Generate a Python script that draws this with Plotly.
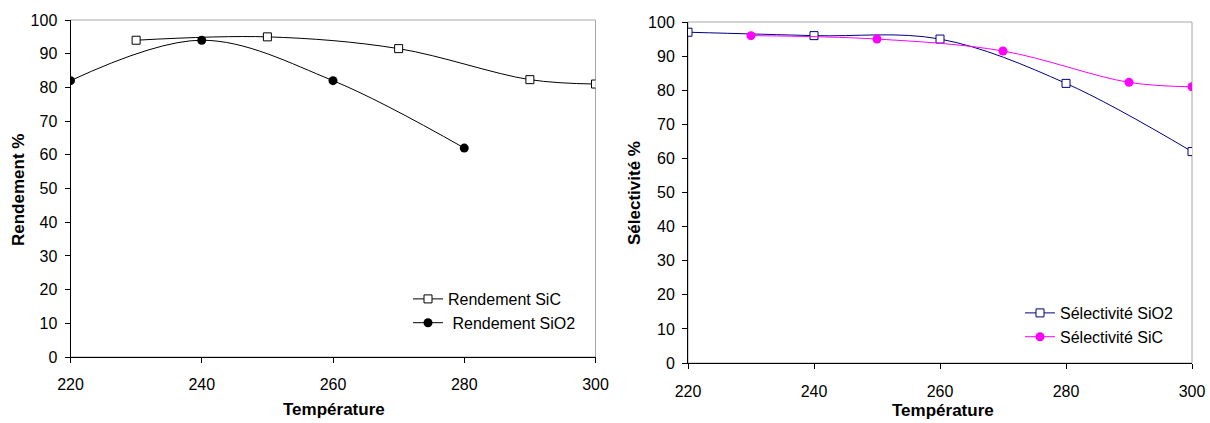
import plotly.graph_objects as go

# Temperature grid and measured values
temp_sio2 = [220, 240, 260, 280]
rendement_sio2 = [82, 94, 82, 62]

temp_sic = [230, 250, 270, 290, 300]
rendement_sic = [94, 95, 91.5, 82.3, 81]

temp_sel_sio2 = [220, 240, 260, 280, 300]
selectivite_sio2 = [97, 96, 95, 82, 62]

temp_sel_sic = [230, 250, 270, 290, 300]
selectivite_sic = [96, 95, 91.5, 82.3, 81]

x_ticks = [220, 240, 260, 280, 300]
y_ticks = list(range(0, 101, 10))

W, H = 1210, 423
FONT = "Liberation Sans, Arial, sans-serif"


def px_x(v):
    return v / W


def px_y(v):
    return 1 - v / H


fig = go.Figure()

# Left panel: Rendement
fig.add_trace(go.Scatter(
    x=temp_sic, y=rendement_sic, name="Rendement SiC",
    mode="lines+markers", line=dict(color="black", width=1, shape="spline"),
    marker=dict(symbol="square", size=8, color="white", line=dict(color="black", width=1)),
    xaxis="x", yaxis="y", legend="legend",
))
fig.add_trace(go.Scatter(
    x=temp_sio2, y=rendement_sio2, name="\u00a0Rendement SiO2",
    mode="lines+markers", line=dict(color="black", width=1, shape="spline"),
    marker=dict(symbol="circle", size=9, color="black"),
    xaxis="x", yaxis="y", legend="legend",
))

# Right panel: Sélectivité
fig.add_trace(go.Scatter(
    x=temp_sel_sio2, y=selectivite_sio2, name="Sélectivité SiO2",
    mode="lines+markers", line=dict(color="#000080", width=1, shape="spline"),
    marker=dict(symbol="square", size=8, color="white", line=dict(color="#000080", width=1)),
    xaxis="x2", yaxis="y2", legend="legend2",
))
fig.add_trace(go.Scatter(
    x=temp_sel_sic, y=selectivite_sic, name="Sélectivité SiC",
    mode="lines+markers", line=dict(color="#FF00FF", width=1, shape="spline"),
    marker=dict(symbol="circle", size=9, color="#FF00FF"),
    xaxis="x2", yaxis="y2", legend="legend2",
))

axis_common = dict(
    showgrid=False, zeroline=False, showline=True, linecolor="black", linewidth=1,
    ticks="outside", ticklen=5, tickcolor="black", tickwidth=1, automargin=False,
    tickfont=dict(family=FONT, size=16, color="black"),
)

left_dom_x = [px_x(70.5), px_x(595.5)]
left_dom_y = [px_y(357), px_y(20)]
right_dom_x = [px_x(688), px_x(1192)]
right_dom_y = [px_y(363), px_y(22)]

fig.update_layout(
    width=W, height=H,
    margin=dict(l=0, r=0, t=0, b=0, autoexpand=False),
    paper_bgcolor="white", plot_bgcolor="white",
    font=dict(family=FONT, size=16, color="black"),
    xaxis=dict(domain=left_dom_x, range=[220, 300], tickvals=x_ticks,
               anchor="y", ticklabelstandoff=8, **axis_common),
    yaxis=dict(domain=left_dom_y, range=[0, 100], tickvals=y_ticks,
               anchor="x", ticklabelstandoff=4, **axis_common),
    xaxis2=dict(domain=right_dom_x, range=[220, 300], tickvals=x_ticks,
                anchor="y2", ticklabelstandoff=9, **axis_common),
    yaxis2=dict(domain=right_dom_y, range=[0, 100], tickvals=y_ticks,
                anchor="x2", ticklabelstandoff=4, **axis_common),
    legend=dict(x=px_x(408), y=px_y(282), xanchor="left", yanchor="top",
                bgcolor="rgba(0,0,0,0)", font=dict(family=FONT, size=16)),
    legend2=dict(x=px_x(1020), y=px_y(296), xanchor="left", yanchor="top",
                 bgcolor="rgba(0,0,0,0)", font=dict(family=FONT, size=16)),
    showlegend=True,
)

# Light grey frame on top and right of each plot area
for xr, yr in (("x domain", "y domain"), ("x2 domain", "y2 domain")):
    fig.add_shape(type="rect", xref=xr, yref=yr, x0=0, x1=1, y0=0, y1=1,
                  line=dict(color="#a6a6a6", width=1), layer="below")

# Axis titles
titles = [
    dict(text="<b>Température</b>", x=px_x(334), y=px_y(409), textangle=0),
    dict(text="<b>Rendement %</b>", x=px_x(18), y=px_y(190), textangle=-90),
    dict(text="<b>Température</b>", x=px_x(943), y=px_y(410), textangle=0),
    dict(text="<b>Sélectivité %</b>", x=px_x(634), y=px_y(193), textangle=-90),
]
for t in titles:
    fig.add_annotation(xref="paper", yref="paper", showarrow=False,
                       xanchor="center", yanchor="middle",
                       font=dict(family=FONT, size=17, color="black"), **t)

fig.write_html("out.html")
